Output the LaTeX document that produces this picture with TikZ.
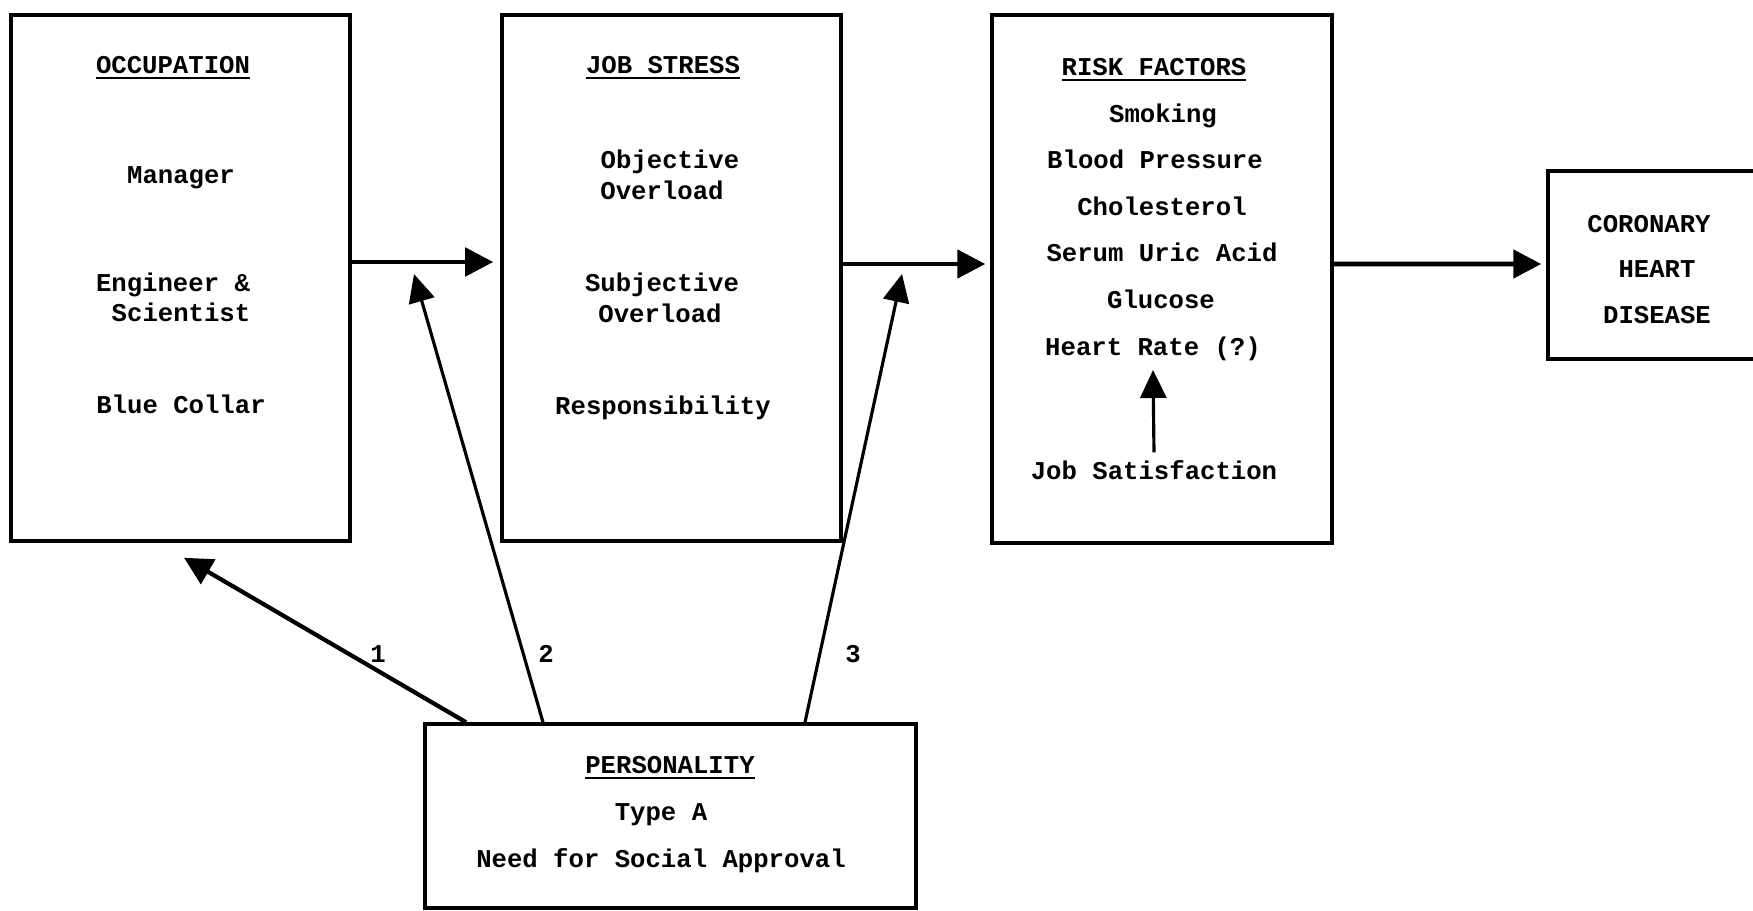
\documentclass[tikz,border=0pt]{standalone}
\usepackage{fontspec}
\setmainfont{Liberation Mono}
\usetikzlibrary{arrows.meta}
\tikzset{
    box/.style={draw, line width=1pt, inner sep=0pt},
    txt/.style={inner sep=0pt, anchor=base, font=\fontsize{7.3}{9}\selectfont\bfseries},
    arr/.style={line width=1.4pt, -{Triangle[length=2.8mm,width=2.8mm]}},
    thinarr/.style={line width=0.9pt, -{Triangle[length=2.8mm,width=2.6mm]}},
}
\begin{document}
\begin{tikzpicture}[x=0.1mm, y=0.1mm]
    \useasboundingbox (0,0) rectangle (1753,910);
    % boxes
    \node[box, minimum width=33.9mm, minimum height=52.6mm] (occ) at (180.5,632) {};
    \node[box, minimum width=33.9mm, minimum height=52.6mm] (stress) at (671.5,632) {};
    \node[box, minimum width=34mm, minimum height=52.8mm] (risk) at (1162,631) {};
    \node[box, minimum width=24.2mm, minimum height=18.8mm] (chd) at (1669,645) {};
    \node[box, minimum width=49.1mm, minimum height=18.4mm] (pers) at (670.5,94) {};
    % occupation
    \node[txt] (occT) at (173,837) {\underline{OCCUPATION}};
    \node[txt] (mgr) at (181,727) {Manager};
    \node[txt] (eng) at (173,619) {Engineer \&};
    \node[txt] (sci) at (181,589) {Scientist};
    \node[txt] (blue) at (181,497) {Blue Collar};
    % job stress
    \node[txt] (stressT) at (663,837) {\underline{JOB STRESS}};
    \node[txt] (obj) at (670,742) {Objective};
    \node[txt] (objO) at (662,711) {Overload};
    \node[txt] (subj) at (662,619) {Subjective};
    \node[txt] (subjO) at (660,588) {Overload};
    \node[txt] (resp) at (663,496) {Responsibility};
    % risk factors
    \node[txt] (riskT) at (1154,835) {\underline{RISK FACTORS}};
    \node[txt] (smok) at (1163,788) {Smoking};
    \node[txt] (bp) at (1155,742) {Blood Pressure};
    \node[txt] (chol) at (1162,695) {Cholesterol};
    \node[txt] (uric) at (1162,649) {Serum Uric Acid};
    \node[txt] (gluc) at (1161,602) {Glucose};
    \node[txt] (hrate) at (1153,555) {Heart Rate (?)};
    \node[txt] (jsat) at (1154,431) {Job Satisfaction};
    % coronary heart disease
    \node[txt] (cor) at (1649,678) {CORONARY};
    \node[txt] (heart) at (1657,633) {HEART};
    \node[txt] (dis) at (1657,587) {DISEASE};
    % personality
    \node[txt] (persT) at (670,137) {\underline{PERSONALITY}};
    \node[txt] (typeA) at (661,90) {Type A};
    \node[txt] (need) at (661,43) {Need for Social Approval};
    % main chain
    \draw[arr, shorten >=0.7mm] ([yshift=1.6mm]occ.east) -- ([yshift=1.6mm]stress.west);
    \draw[arr, shorten >=0.5mm] ([yshift=1.4mm]stress.east) -- ([yshift=1.5mm]risk.west);
    \draw[arr, shorten >=0.5mm] ([yshift=1.5mm]risk.east) -- ([yshift=0.1mm]chd.west);
    \draw[thinarr] ([yshift=0.7mm]jsat.north) -- ([yshift=-0.9mm]hrate.south);
    % personality paths
    \coordinate (t2) at (414,636);
    \coordinate (t3) at (902,636);
    \draw[arr, line width=1.2pt] ([xshift=-20.45mm]pers.north) -- ([xshift=0.35mm,yshift=-1.5mm]occ.south);
    \draw[thinarr] ([xshift=-12.75mm]pers.north) -- (t2);
    \draw[thinarr] ([xshift=13.45mm]pers.north) -- (t3);
    \node[txt] (n1) at (378,248) {1};
    \node[txt] (n2) at (546,248) {2};
    \node[txt] (n3) at (853,248) {3};
\end{tikzpicture}
\end{document}
